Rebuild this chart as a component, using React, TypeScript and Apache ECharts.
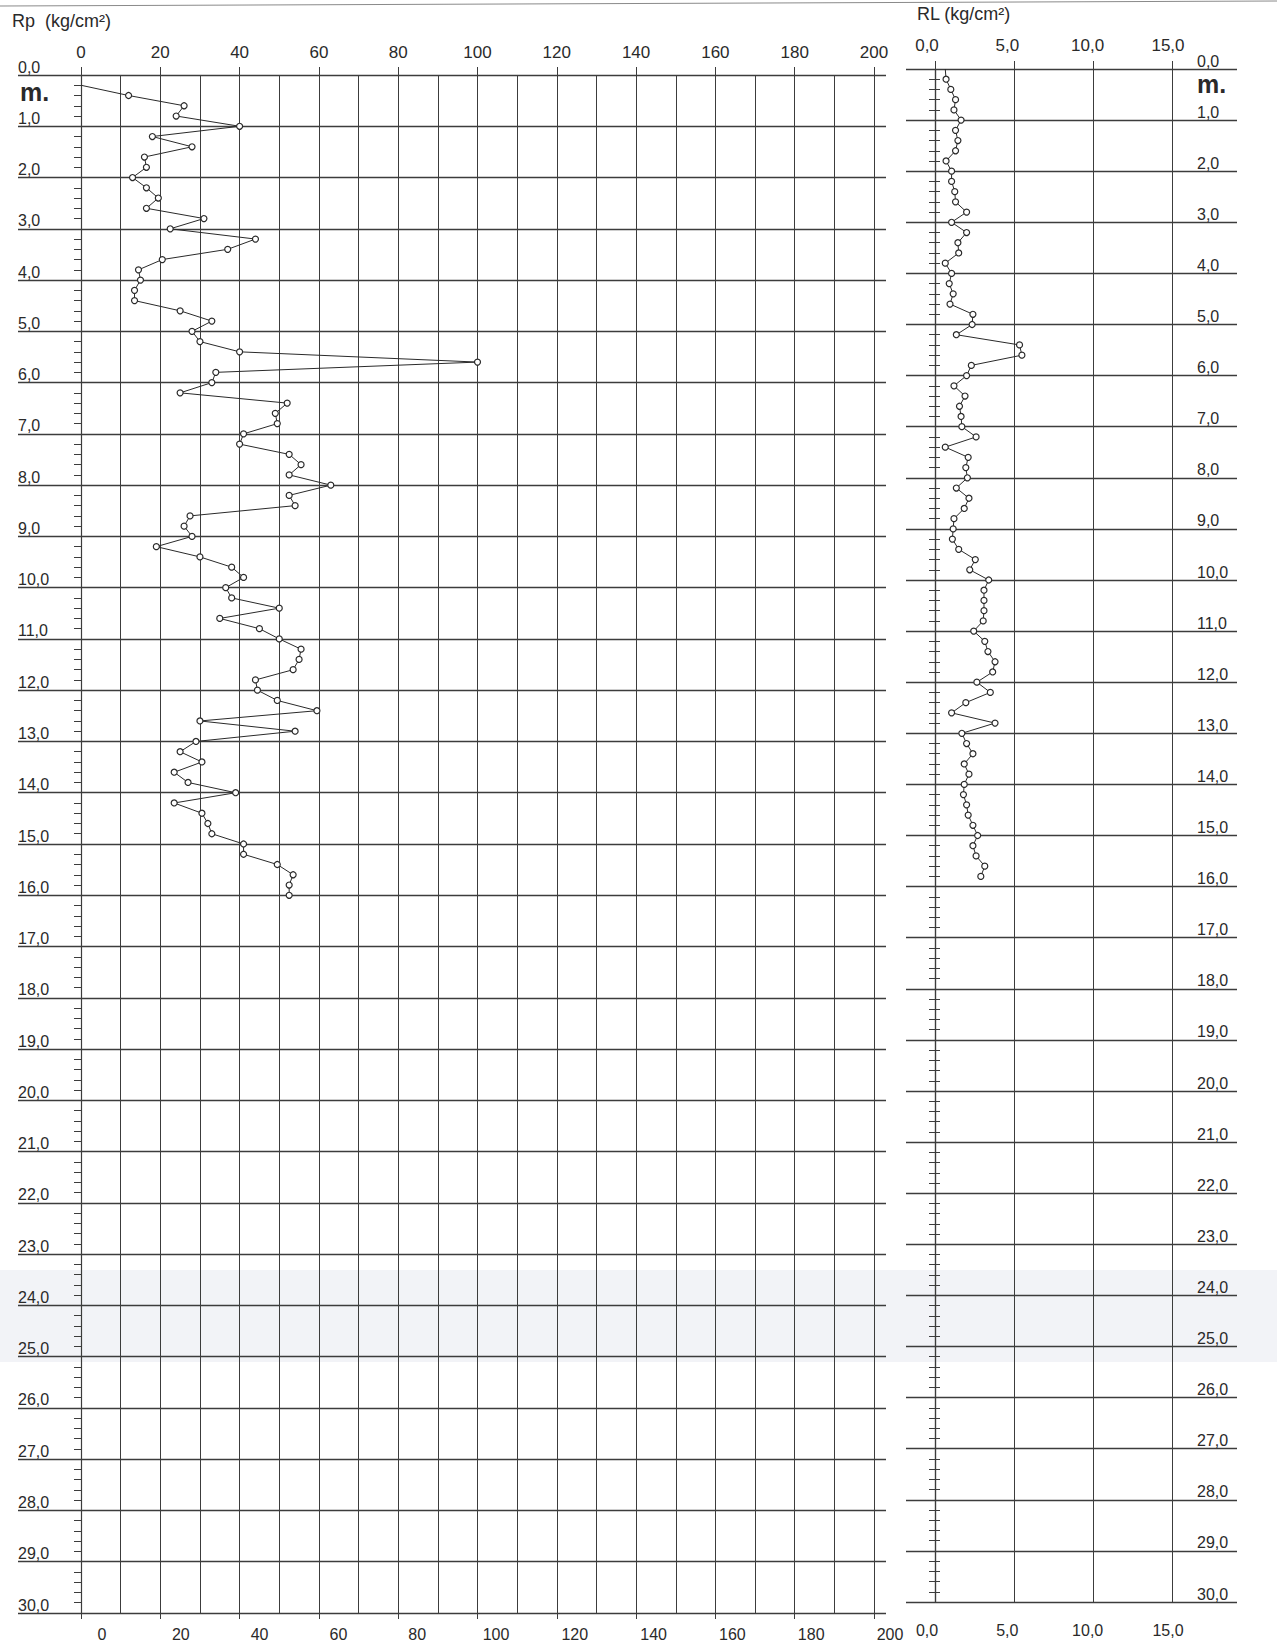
import React, { useEffect, useRef } from "react";
import * as echarts from "echarts";

// Depth (m) of each cone reading, Rp (kg/cm²)
const rpDepths = [
  0.2, 0.4, 0.6, 0.8, 1.0, 1.2, 1.4, 1.6, 1.8, 2.0,
  2.2, 2.4, 2.6, 2.8, 3.0, 3.2, 3.4, 3.6, 3.8, 4.0,
  4.2, 4.4, 4.6, 4.8, 5.0, 5.2, 5.4, 5.6, 5.8, 6.0,
  6.2, 6.4, 6.6, 6.8, 7.0, 7.2, 7.4, 7.6, 7.8, 8.0,
  8.2, 8.4, 8.6, 8.8, 9.0, 9.2, 9.4, 9.6, 9.8, 10.0,
  10.2, 10.4, 10.6, 10.8, 11.0, 11.2, 11.4, 11.6, 11.8, 12.0,
  12.2, 12.4, 12.6, 12.8, 13.0, 13.2, 13.4, 13.6, 13.8, 14.0,
  14.2, 14.4, 14.6, 14.8, 15.0, 15.2, 15.4, 15.6, 15.8, 16.0,
];
const rpValues = [
  0, 12, 26, 24, 40, 18, 28, 16, 16.5, 13,
  16.5, 19.5, 16.5, 31, 22.5, 44, 37, 20.5, 14.5, 15,
  13.5, 13.5, 25, 33, 28, 30, 40, 100, 34, 33,
  25, 52, 49, 49.5, 41, 40, 52.5, 55.5, 52.5, 63,
  52.5, 54, 27.5, 26, 28, 19, 30, 38, 41, 36.5,
  38, 50, 35, 45, 50, 55.5, 55, 53.5, 44, 44.5,
  49.5, 59.5, 30, 54, 29, 25, 30.5, 23.5, 27, 39,
  23.5, 30.5, 32, 33, 41, 41, 49.5, 53.5, 52.5, 52.5,
];

// Depth (m) of each sleeve reading, RL (kg/cm²)
const rlDepths = [
  0.0, 0.2, 0.4, 0.6, 0.8, 1.0, 1.2, 1.4, 1.6, 1.8, 2.0,
  2.2, 2.4, 2.6, 2.8, 3.0, 3.2, 3.4, 3.6, 3.8, 4.0,
  4.2, 4.4, 4.6, 4.8, 5.0, 5.2, 5.4, 5.6, 5.8, 6.0,
  6.2, 6.4, 6.6, 6.8, 7.0, 7.2, 7.4, 7.6, 7.8, 8.0,
  8.2, 8.4, 8.6, 8.8, 9.0, 9.2, 9.4, 9.6, 9.8, 10.0,
  10.2, 10.4, 10.6, 10.8, 11.0, 11.2, 11.4, 11.6, 11.8, 12.0,
  12.2, 12.4, 12.6, 12.8, 13.0, 13.2, 13.4, 13.6, 13.8, 14.0,
  14.2, 14.4, 14.6, 14.8, 15.0, 15.2, 15.4, 15.6, 15.8,
];
const rlValues = [
  0.65, 0.7, 1.0, 1.3, 1.2, 1.65, 1.3, 1.45, 1.3, 0.7, 1.05,
  1.05, 1.25, 1.3, 2.0, 1.05, 2.0, 1.45, 1.5, 0.65, 1.05,
  0.9, 1.15, 0.95, 2.4, 2.35, 1.35, 5.35, 5.5, 2.3, 2.0,
  1.2, 1.9, 1.55, 1.65, 1.7, 2.6, 0.65, 2.1, 1.95, 2.05,
  1.35, 2.15, 1.85, 1.2, 1.15, 1.1, 1.5, 2.55, 2.2, 3.4,
  3.1, 3.1, 3.1, 3.05, 2.45, 3.15, 3.35, 3.8, 3.65, 2.65,
  3.5, 1.95, 1.05, 3.8, 1.7, 2.0, 2.4, 1.85, 2.15, 1.85,
  1.8, 2.0, 2.1, 2.4, 2.7, 2.4, 2.6, 3.15, 2.9,
];

const rpTicks = { min: 0, max: 200, interval: 20 };
const rlTicks = { min: 0, max: 15, interval: 5 };
const depthTicks = { min: 0, max: 30, interval: 1 };

const FONT = "'Liberation Sans', Arial, sans-serif";
const INK = "#2a2a2a";
const GRID = "#3c3c3c";

const comma1 = (v: number) => v.toFixed(1).replace(".", ",");

export default function App() {
  const ref = useRef<HTMLDivElement>(null);

  useEffect(() => {
    if (!ref.current) return;
    const chart = echarts.init(ref.current, null, { renderer: "svg" });

    const rpData = rpDepths.map((d, i) =>
      i === 0 && rpValues[i] === 0
        ? { value: [rpValues[i], d], symbol: "none" }
        : { value: [rpValues[i], d] }
    );
    const rlData = rlDepths.map((d, i) =>
      d === 0 ? { value: [rlValues[i], d], symbol: "none" } : { value: [rlValues[i], d] }
    );

    const hidden = { show: false };
    const LTOP = 75;
    const LH = 1538;
    const RTOP = 69;
    const RH = 1533;

    const stripY = (gridIndex: number) => ({
      gridIndex,
      type: "value",
      inverse: true,
      ...depthTicks,
      axisLine: hidden,
      axisTick: hidden,
      axisLabel: hidden,
      splitLine: { show: true, lineStyle: { color: GRID, width: 1.3 } },
    });
    const hiddenY = (gridIndex: number) => ({
      gridIndex,
      type: "value",
      inverse: true,
      ...depthTicks,
      show: false,
      splitLine: hidden,
    });
    const labelOnlyX = (
      gridIndex: number,
      ticks: any,
      position: string,
      margin: number,
      fontSize: number,
      fmt?: any
    ) => ({
      gridIndex,
      type: "value",
      position,
      ...ticks,
      axisLine: hidden,
      axisTick: hidden,
      splitLine: hidden,
      axisLabel: {
        margin,
        fontSize,
        color: INK,
        fontFamily: FONT,
        ...(fmt ? { formatter: fmt } : {}),
      },
    });

    const option: any = {
      animation: false,
      backgroundColor: "#ffffff",
      textStyle: { fontFamily: FONT },
      grid: [
        { left: 18, top: LTOP, width: 868, height: LH },
        { left: 81, top: LTOP, width: 793, height: LH },
        { left: 906, top: RTOP, width: 331, height: RH },
        { left: 935, top: RTOP, width: 237, height: RH },
        { left: 102, top: LTOP, width: 788, height: LH },
        { left: 927, top: RTOP, width: 241, height: RH },
      ],
      xAxis: [
        { gridIndex: 0, type: "value", min: 0, max: 1, show: false },
        {
          gridIndex: 1,
          type: "value",
          position: "top",
          ...rpTicks,
          axisLine: hidden,
          axisTick: { show: true, length: 8, lineStyle: { color: GRID } },
          axisLabel: { margin: 14, fontSize: 17, color: INK, fontFamily: FONT },
          splitLine: { show: true, lineStyle: { color: GRID, width: 1 } },
          minorTick: { show: false, splitNumber: 2 },
          minorSplitLine: { show: true, lineStyle: { color: GRID, width: 1 } },
        },
        {
          gridIndex: 1,
          type: "value",
          position: "bottom",
          ...rpTicks,
          axisLine: hidden,
          axisTick: { show: true, length: 6, lineStyle: { color: GRID } },
          axisLabel: hidden,
          splitLine: hidden,
        },
        { gridIndex: 2, type: "value", min: 0, max: 1, show: false },
        {
          gridIndex: 3,
          type: "value",
          position: "top",
          ...rlTicks,
          axisLine: hidden,
          axisTick: { show: true, length: 8, lineStyle: { color: GRID } },
          axisLabel: hidden,
          splitLine: { show: true, lineStyle: { color: GRID, width: 1 } },
        },
        {
          gridIndex: 3,
          type: "value",
          position: "bottom",
          ...rlTicks,
          axisLine: hidden,
          axisTick: { show: true, length: 6, lineStyle: { color: GRID } },
          axisLabel: hidden,
          splitLine: hidden,
        },
        labelOnlyX(4, rpTicks, "bottom", 20, 16),
        labelOnlyX(5, rlTicks, "top", 15, 17, comma1),
        labelOnlyX(5, rlTicks, "bottom", 20, 16, comma1),
      ],
      yAxis: [
        stripY(0),
        {
          gridIndex: 1,
          type: "value",
          inverse: true,
          position: "left",
          ...depthTicks,
          axisLine: { show: true, lineStyle: { color: GRID, width: 1.2 } },
          axisTick: { show: true, length: 7, lineStyle: { color: GRID } },
          minorTick: { show: true, splitNumber: 5, length: 7, lineStyle: { color: GRID } },
          axisLabel: {
            margin: 63,
            align: "left",
            verticalAlign: "bottom",
            fontSize: 16,
            color: INK,
            fontFamily: FONT,
            formatter: comma1,
          },
          splitLine: hidden,
        },
        stripY(2),
        {
          gridIndex: 3,
          type: "value",
          inverse: true,
          position: "left",
          ...depthTicks,
          axisLine: { show: true, lineStyle: { color: GRID, width: 1.2 } },
          axisTick: { show: true, length: 6, lineStyle: { color: GRID } },
          minorTick: { show: true, splitNumber: 5, length: 6, lineStyle: { color: GRID } },
          axisLabel: hidden,
          splitLine: hidden,
        },
        {
          gridIndex: 3,
          type: "value",
          inverse: true,
          position: "right",
          ...depthTicks,
          axisLine: { show: true, lineStyle: { color: GRID, width: 1.2 } },
          axisTick: { show: true, length: 5, lineStyle: { color: GRID } },
          minorTick: { show: true, splitNumber: 5, length: 5, lineStyle: { color: GRID } },
          axisLabel: {
            margin: 25,
            align: "left",
            verticalAlign: "bottom",
            fontSize: 16,
            color: INK,
            fontFamily: FONT,
            formatter: comma1,
          },
          splitLine: hidden,
        },
        hiddenY(4),
        hiddenY(5),
      ],
      series: [
        {
          name: "Rp",
          type: "line",
          xAxisIndex: 1,
          yAxisIndex: 1,
          data: rpData,
          symbol: "circle",
          symbolSize: 6,
          showSymbol: true,
          lineStyle: { color: INK, width: 1 },
          itemStyle: { color: "#ffffff", borderColor: INK, borderWidth: 1.2 },
          z: 5,
        },
        {
          name: "RL",
          type: "line",
          xAxisIndex: 4,
          yAxisIndex: 3,
          data: rlData,
          symbol: "circle",
          symbolSize: 6,
          showSymbol: true,
          lineStyle: { color: INK, width: 1 },
          itemStyle: { color: "#ffffff", borderColor: INK, borderWidth: 1.2 },
          z: 5,
        },
      ],
      graphic: [
        {
          type: "rect",
          z: -10,
          silent: true,
          shape: { x: 0, y: 1270, width: 1277, height: 92 },
          style: { fill: "#f2f3f7" },
        },
        {
          type: "line",
          silent: true,
          shape: { x1: 0, y1: 6, x2: 1277, y2: 1 },
          style: { stroke: "#8a8a8a", lineWidth: 1 },
        },
        {
          type: "text",
          left: 12,
          top: 12,
          style: { text: "Rp  (kg/cm²)", fontSize: 18, fill: INK, fontFamily: FONT },
        },
        {
          type: "text",
          left: 917,
          top: 5,
          style: { text: "RL (kg/cm²)", fontSize: 18, fill: INK, fontFamily: FONT },
        },
        {
          type: "text",
          left: 20,
          top: 79,
          style: { text: "m.", fontSize: 25, fontWeight: "bold", fill: INK, fontFamily: FONT },
        },
        {
          type: "text",
          left: 1197,
          top: 71,
          style: { text: "m.", fontSize: 25, fontWeight: "bold", fill: INK, fontFamily: FONT },
        },
      ],
    };

    chart.setOption(option);
    return () => chart.dispose();
  }, []);

  return (
    <div
      ref={ref}
      style={{ position: "fixed", left: 0, top: 0, width: 1277, height: 1642, background: "#fff" }}
    />
  );
}
